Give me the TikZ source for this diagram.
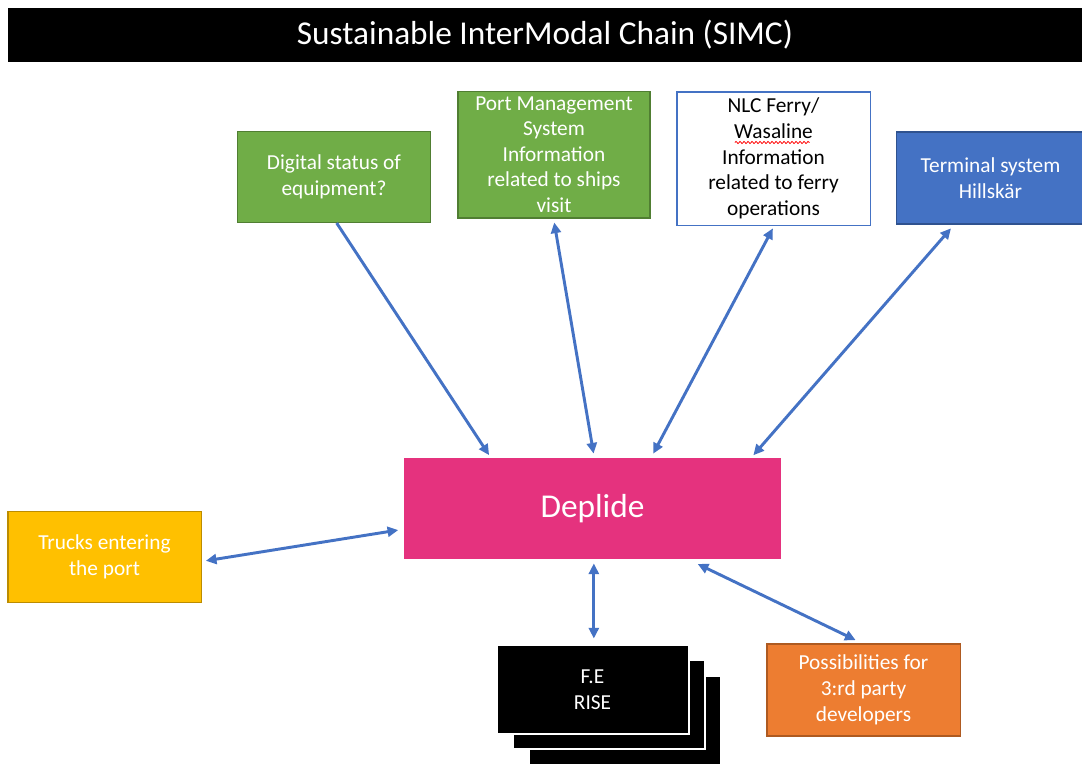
\documentclass[tikz,border=0pt]{standalone}
\usepackage{fontspec}
\setmainfont{Carlito}
\usetikzlibrary{arrows.meta,decorations.pathmorphing}
\definecolor{simcgreen}{HTML}{70AD47}
\definecolor{simcgreend}{HTML}{507E32}
\definecolor{simcblue}{HTML}{4472C4}
\definecolor{simcblued}{HTML}{2F528F}
\definecolor{simcpink}{HTML}{E5327E}
\definecolor{simcyellow}{HTML}{FFC000}
\definecolor{simcyellowd}{HTML}{BC8C00}
\definecolor{simcorange}{HTML}{ED7D31}
\definecolor{simcoranged}{HTML}{AE5A21}

\begin{document}
\begin{tikzpicture}[x=0.75pt,y=-0.75pt,
>={Triangle[length=8pt,width=7.5pt]},
box/.style={draw, line width=1pt, minimum width=145pt, minimum height=68pt,
  align=center, inner sep=1pt, text=white, font=\fontsize{16}{19.5}\selectfont},
stackbox/.style={fill=black, draw=white, line width=1.5pt, minimum width=144pt,
  minimum height=67pt, inner sep=0pt},
link/.style={draw=simcblue, line width=2.2pt, <->, shorten <=1pt, shorten >=1pt}]
\useasboundingbox (0,0) rectangle (1082,764);

% title bar
\node[fill=black, text=white, minimum width=806pt, minimum height=40.5pt,
  font=\fontsize{25}{30}\selectfont] (title) at (545,35) {Sustainable InterModal Chain (SIMC)};

% sources on top
\node[box, fill=simcgreen, draw=simcgreend] (digital) at (334,177) {Digital status of\\equipment?};
\node[box, fill=simcgreen, draw=simcgreend, minimum width=144pt, minimum height=95pt, inner sep=0pt,
  font=\fontsize{16}{19.2}\selectfont] (pms) at (554,154.5)
  {Port Management\\System\\Information\\related to ships\\visit};
\node[box, fill=white, draw=simcblue, text=black, minimum height=100pt, inner sep=0pt,
  font=\fontsize{16}{19.2}\selectfont] (nlc) at (773.5,158.5)
  {NLC Ferry/\\Wasaline\\Information\\related to ferry\\operations};
% spelling wave under Wasaline
\draw[red, line width=0.6pt, decorate, decoration={snake, amplitude=0.8pt, segment length=3pt}]
  ([xshift=-29pt,yshift=12pt]nlc.center) -- ([xshift=27pt,yshift=12pt]nlc.center);
\node[box, fill=simcblue, draw=simcblued, minimum width=141pt, minimum height=69pt] (terminal) at (990.5,178)
  {Terminal system\\Hillsk\"ar};

% hub
\node[fill=simcpink, text=white, minimum width=283pt, minimum height=76pt,
  font=\fontsize{25}{30}\selectfont] (deplide) at (592.5,508.5) {Deplide};

% left and bottom
\node[box, fill=simcyellow, draw=simcyellowd] (trucks) at (104.5,557) {Trucks entering\\the port};
\node[stackbox] (fe3) at (624.5,720.5) {};
\node[stackbox] (fe2) at (609,704.5) {};
\node[stackbox, text=white, align=center, font=\fontsize{16}{19.5}\selectfont] (fe) at (592.5,689.5) {F.E\\RISE};
\node[box, fill=simcorange, draw=simcoranged, minimum height=69pt] (dev) at (863.5,690)
  {Possibilities for\\3:rd party\\developers};

% links to the hub
\draw[link, ->, shorten <=0pt] ([xshift=2pt]digital.south) -- ([xshift=-77pt,yshift=1pt]deplide.north);
\draw[link] ([yshift=-2pt]pms.south) -- ([xshift=1pt,yshift=2pt]deplide.north);
\draw[link] ([yshift=-1pt]nlc.south) -- ([xshift=45pt,yshift=2pt]deplide.north);
\draw[link] ([xshift=-29pt,yshift=-2pt]terminal.south) -- ([xshift=120pt,yshift=1pt]deplide.north);
\draw[link] ([xshift=2pt,yshift=-3pt]trucks.east) -- ([xshift=-3pt,yshift=-16pt]deplide.west);
\draw[link] ([xshift=1pt,yshift=-2pt]deplide.south) -- ([xshift=1pt,yshift=3pt]fe.north);
\draw[link] ([xshift=78pt,yshift=-3pt]deplide.south) -- ([xshift=-5pt,yshift=2pt]dev.north);
\end{tikzpicture}
\end{document}
